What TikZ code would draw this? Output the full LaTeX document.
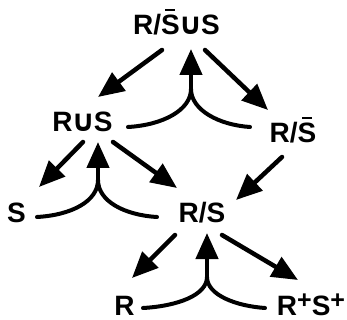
\documentclass[tikz,border=0pt]{standalone}
\usepackage{fontspec}
\setmainfont{Liberation Sans}
\newfontfamily\symfont{DejaVu Sans}
\usetikzlibrary{arrows.meta}
\newcommand\Sbar{\ooalign{S\cr\hidewidth\rule[23.5pt]{10pt}{2.8pt}\hidewidth\cr}}
\newcommand\cupsym{\kern-1.5pt{\symfont\bfseries\fontsize{30}{30}\selectfont ∪}\kern-1.5pt}
\newcommand\plushi{\raisebox{7pt}{\bfseries\fontsize{25}{25}\selectfont +}}
\tikzset{
  lbl/.style={anchor=base, inner sep=0pt, font=\bfseries\fontsize{28}{28}\selectfont},
  arr/.style={line width=4.5pt, line cap=round, -{Triangle[length=26pt,width=22pt]}},
  cur/.style={line width=4pt, line cap=round},
}
\begin{document}
\begin{tikzpicture}[x=1pt,y=-1pt]
\useasboundingbox (0,0) rectangle (347,320);
% nodes
\node[lbl] (top) at (176.5,35) {R/\Sbar\cupsym S};
\node[lbl] (ru) at (82.5,132) {R\cupsym S};
\node[lbl] (rsb) at (293,143) {R/\Sbar};
\node[lbl] (s) at (16.5,222) {S};
\node[lbl] (rs) at (202,222) {R/S};
\node[lbl] (r) at (124.5,315) {R};
\node[lbl] (rpsp) at (311,315) {R\plushi S\plushi};
% coordinates
\coordinate (a1s) at (162,50);  \coordinate (a1t) at (98,97);
\coordinate (a2s) at (205,50);  \coordinate (a2t) at (268,110);
\coordinate (m1t) at (191,49);  \coordinate (m1s) at (191,89);
\coordinate (m1l) at (128,127); \coordinate (m1r) at (250,127);
\coordinate (a3s) at (83,142);  \coordinate (a3t) at (39,187);
\coordinate (a4s) at (113,142); \coordinate (a4t) at (177,188);
\coordinate (m2t) at (98,142);  \coordinate (m2s) at (98,180);
\coordinate (m2l) at (37,217);  \coordinate (m2r) at (157,217);
\coordinate (a5s) at (282,157); \coordinate (a5t) at (236,200);
\coordinate (a6s) at (175,235); \coordinate (a6t) at (132,278);
\coordinate (a7s) at (222,235); \coordinate (a7t) at (298,280);
\coordinate (m3t) at (207,233); \coordinate (m3s) at (207,277);
\coordinate (m3l) at (143,308); \coordinate (m3r) at (265,308);
% arrows
\draw[arr] (a1s) -- (a1t);
\draw[arr] (a2s) -- (a2t);
\draw[arr] (a3s) -- (a3t);
\draw[arr] (a4s) -- (a4t);
\draw[arr] (a5s) -- (a5t);
\draw[arr] (a6s) -- (a6t);
\draw[arr] (a7s) -- (a7t);
% merges
\draw[cur] (m1l) .. controls (163,125) and (191,110) .. (m1s);
\draw[cur] (m1r) .. controls (219,125) and (191,110) .. (m1s);
\draw[arr] (m1s) -- (m1t);
\draw[cur] (m2l) .. controls (72,215) and (98,201) .. (m2s);
\draw[cur] (m2r) .. controls (124,215) and (98,201) .. (m2s);
\draw[arr] (m2s) -- (m2t);
\draw[cur] (m3l) .. controls (178,306) and (207,295) .. (m3s);
\draw[cur] (m3r) .. controls (236,306) and (207,295) .. (m3s);
\draw[arr] (m3s) -- (m3t);
\end{tikzpicture}
\end{document}
